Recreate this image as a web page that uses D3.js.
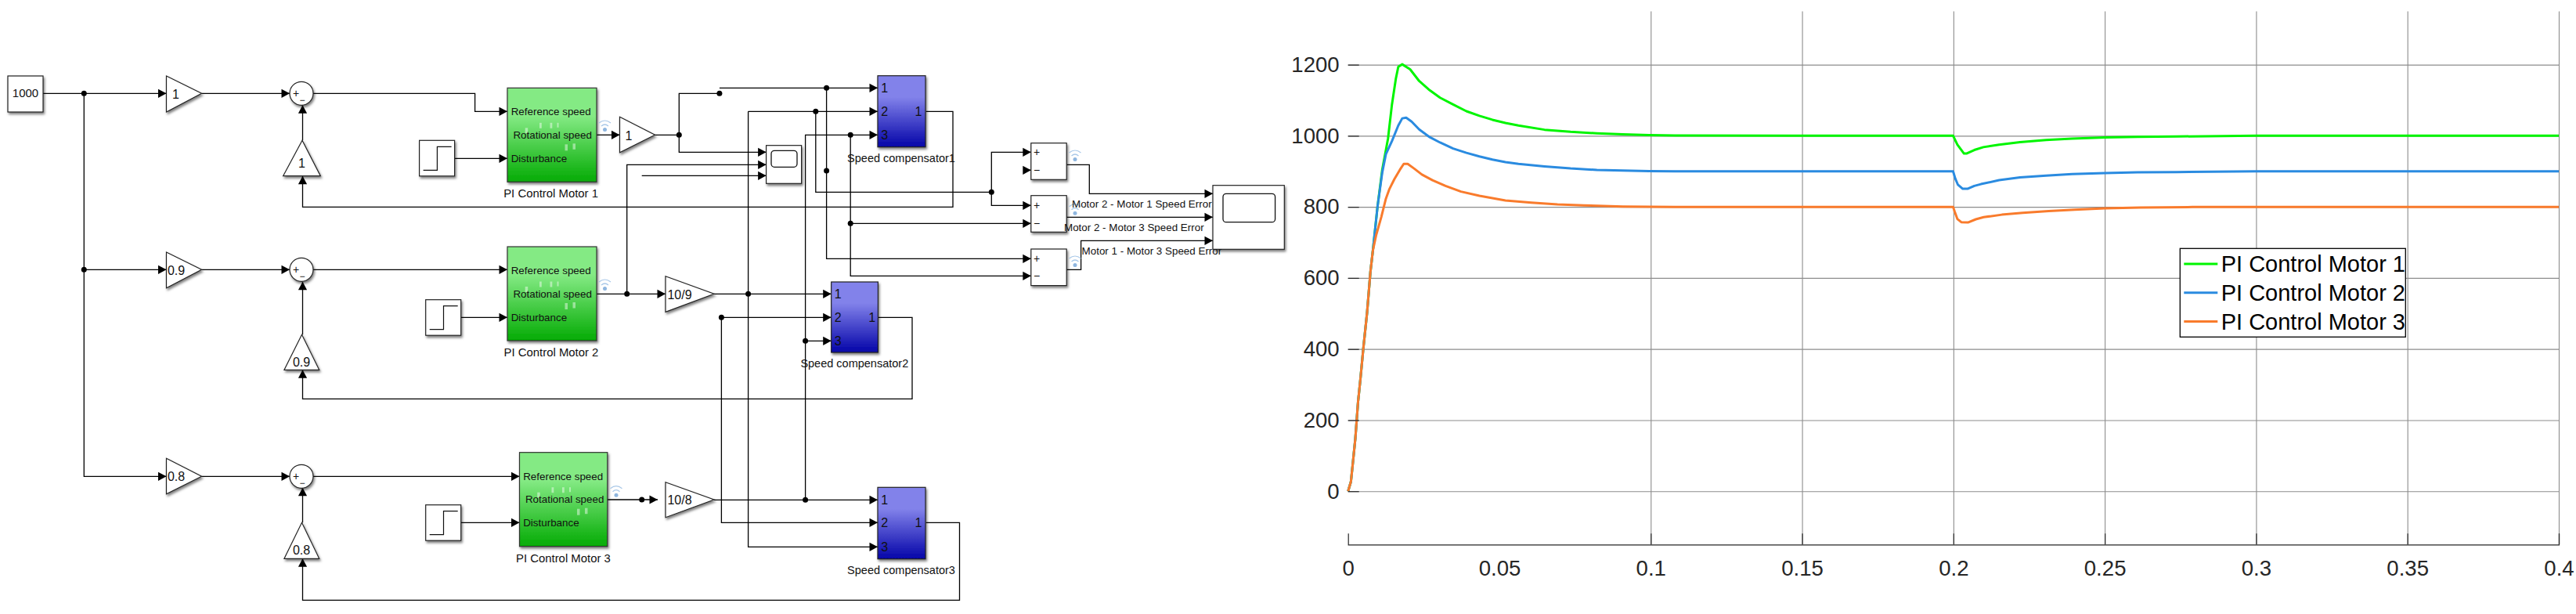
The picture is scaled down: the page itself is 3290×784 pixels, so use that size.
<!DOCTYPE html>
<html>
<head>
<meta charset="utf-8">
<script src="https://cdn.jsdelivr.net/npm/d3@7"></script>
<style>
  body { margin: 0; background: #fff; }
  svg { display: block; }
  text { font-family: "Liberation Sans", Arial, sans-serif; }
</style>
</head>
<body>
<div id="chart"></div>
<script>
// Values.
const seriesNames = ['PI Control Motor 1', 'PI Control Motor 2', 'PI Control Motor 3'];
const xTicks = [0, 0.05, 0.1, 0.15, 0.2, 0.25, 0.3, 0.35, 0.4];
const yTicks = [0, 200, 400, 600, 800, 1000, 1200];

const motor1Time = [0, 0.00095, 0.0017, 0.0024, 0.0033, 0.0041, 0.005, 0.0063, 0.0074, 0.0082, 0.00974, 0.0113, 0.0132, 0.0145, 0.0158, 0.0166, 0.0179, 0.0205, 0.0235, 0.027, 0.0304, 0.0347, 0.0391, 0.0434, 0.0477, 0.052, 0.0563, 0.0649, 0.0735, 0.0822, 0.0908, 0.0994, 0.108, 0.15, 0.1999, 0.2013, 0.2035, 0.2043, 0.2069, 0.2099, 0.2151, 0.222, 0.2306, 0.2392, 0.25, 0.2608, 0.2737, 0.3, 0.4];
const motor1Speed = [0, 27, 89, 148, 251, 317, 398, 504, 618, 677, 801, 905, 992, 1088, 1161, 1194, 1201, 1187, 1154, 1128, 1107, 1088, 1069, 1056, 1045, 1036, 1029, 1017, 1011, 1007, 1004, 1002, 1001, 1000, 1000, 975, 950, 950, 960, 968, 975, 982, 988, 992, 995, 997, 998, 1000, 1000];

const motor2Time = [0, 0.00095, 0.0017, 0.0024, 0.0033, 0.0041, 0.005, 0.0063, 0.0074, 0.0082, 0.00974, 0.0113, 0.0125, 0.0145, 0.0166, 0.0179, 0.0192, 0.021, 0.0235, 0.027, 0.0304, 0.0347, 0.0391, 0.0434, 0.0477, 0.052, 0.0563, 0.0649, 0.0735, 0.0822, 0.0908, 0.0994, 0.108, 0.15, 0.1999, 0.2006, 0.2015, 0.203, 0.2048, 0.2069, 0.2091, 0.2151, 0.222, 0.2306, 0.2392, 0.25, 0.2608, 0.2737, 0.3, 0.4];
const motor2Speed = [0, 27, 89, 148, 251, 317, 398, 504, 618, 677, 801, 897, 948, 985, 1029, 1049, 1051, 1040, 1018, 996, 981, 964, 952, 942, 933, 926, 921, 914, 908, 904, 902, 900.5, 900, 900, 900, 880, 862, 851, 851, 859, 864, 875, 883, 888, 892, 895, 897, 898, 900, 900];

const motor3Time = [0, 0.00095, 0.0017, 0.0024, 0.0033, 0.0041, 0.005, 0.0063, 0.0074, 0.0082, 0.0093, 0.011, 0.0125, 0.0136, 0.0153, 0.0171, 0.0184, 0.0197, 0.0218, 0.0244, 0.0279, 0.0322, 0.0373, 0.0434, 0.052, 0.0606, 0.0692, 0.0779, 0.0908, 0.108, 0.15, 0.1999, 0.2004, 0.2013, 0.2026, 0.2048, 0.2074, 0.21, 0.216, 0.2229, 0.2315, 0.2401, 0.2501, 0.2617, 0.279, 0.3, 0.4];
const motor3Speed = [0, 27, 89, 148, 251, 317, 398, 504, 618, 677, 721, 772, 823, 849, 878, 904, 921, 921, 908, 891, 875, 859, 843, 831, 818, 812, 807, 804, 801, 800, 800, 800, 787, 766, 757, 756, 765, 771, 778, 783, 788, 792, 796, 798, 799.5, 800, 800];

const seriesColors = ['#00f500', '#2a8be0', '#f97b2c'];

const width = 3290;
const height = 784;

const svg = d3.select('#chart').append('svg')
    .attr('width', width)
    .attr('height', height)
    .attr('viewBox', [0, 0, width, height]);

// Filters and gradients for the block diagram
const defs = svg.append('defs');
defs.append('filter').attr('id', 'shadow')
    .attr('x', '-20%').attr('y', '-20%').attr('width', '150%').attr('height', '150%')
  .append('feDropShadow')
    .attr('dx', 1.5).attr('dy', 2.5).attr('stdDeviation', 1.6)
    .attr('flood-color', '#000').attr('flood-opacity', 0.5);

function addGradient(id, top, bottom) {
  const g = defs.append('linearGradient').attr('id', id)
      .attr('x1', 0).attr('y1', 0).attr('x2', 0).attr('y2', 1);
  g.append('stop').attr('offset', '0%').attr('stop-color', top);
  g.append('stop').attr('offset', '30%').attr('stop-color', top);
  g.append('stop').attr('offset', '100%').attr('stop-color', bottom);
}
addGradient('greenFill', '#84ea84', '#04ab04');
addGradient('blueFill', '#8282ea', '#0404a8');

// ---------- Block diagram ----------
const diagram = svg.append('g').attr('class', 'diagram');

const wires = [
  // Reference branch
  { p: [[55, 119.3], [212.5, 119.3]], arrow: true },
  { p: [[107.3, 119.3], [107.3, 608.3], [212.5, 608.3]], arrow: true },
  { p: [[107.3, 344.3], [212.5, 344.3]], arrow: true },
  { p: [[257.5, 119.3], [370, 119.3]], arrow: true },
  { p: [[257.5, 344.3], [370, 344.3]], arrow: true },
  { p: [[257.5, 608.3], [370, 608.3]], arrow: true },
  { p: [[400, 119.3], [606.6, 119.3], [606.6, 142.3], [648, 142.3]], arrow: true },
  { p: [[400, 344.3], [648, 344.3]], arrow: true },
  { p: [[400, 608.3], [663.5, 608.3]], arrow: true },
  // Steps
  { p: [[581, 202.3], [648, 202.3]], arrow: true },
  { p: [[588.7, 405.3], [648, 405.3]], arrow: true },
  { p: [[588.7, 667.3], [663.5, 667.3]], arrow: true },
  // Motor 1 output
  { p: [[762, 172.3], [791.5, 172.3]], arrow: true },
  { p: [[836.5, 172.3], [867.3, 172.3], [867.3, 119.3], [918.9, 119.3]] },
  { p: [[918.9, 112.3], [1121, 112.3]], arrow: true },
  { p: [[867.3, 172.3], [867.3, 194.3], [978.6, 194.3]], arrow: true },
  // Feedback loops
  { p: [[1182.6, 142.3], [1217, 142.3], [1217, 264.3], [386.5, 264.3], [386.5, 224.7]], arrow: true },
  { p: [[386.5, 179.3], [386.5, 134.3]], arrow: true },
  { p: [[1121.4, 405.3], [1165, 405.3], [1165, 509.3], [386.5, 509.3], [386.5, 472.3]], arrow: true },
  { p: [[386.5, 427.3], [386.5, 359.7]], arrow: true },
  { p: [[1182.6, 667.3], [1225.5, 667.3], [1225.5, 766.3], [386.5, 766.3], [386.5, 713.3]], arrow: true },
  { p: [[386.5, 667.3], [386.5, 622.7]], arrow: true },
  // Motor 2 output
  { p: [[762, 375.3], [850, 375.3]], arrow: true },
  { p: [[800.7, 375.3], [800.7, 210.3], [978.6, 210.3]], arrow: true },
  { p: [[819.7, 224.3], [978.6, 224.3]], arrow: true },
  { p: [[912, 375.3], [1061.7, 375.3]], arrow: true },
  { p: [[955.6, 142.3], [1121, 142.3]], arrow: true },
  { p: [[955.6, 142.3], [955.6, 698.3], [1121, 698.3]], arrow: true },
  { p: [[1041.8, 142.3], [1041.8, 245.3], [1266.3, 245.3]] },
  { p: [[1266.3, 245.3], [1266.3, 194.3], [1316.8, 194.3]], arrow: true },
  { p: [[1266.3, 245.3], [1266.3, 262.3], [1316.8, 262.3]], arrow: true },
  { p: [[1055.6, 112.3], [1055.6, 330.3], [1316.8, 330.3]], arrow: true },
  // Motor 3 output
  { p: [[775.8, 638], [840, 638]], arrow: true },
  { p: [[912, 638.3], [1121, 638.3]], arrow: true },
  { p: [[1028.6, 638.3], [1028.6, 172.3], [1121, 172.3]], arrow: true },
  { p: [[1028.6, 435.3], [1061.7, 435.3]], arrow: true },
  { p: [[1086.2, 172.3], [1086.2, 352.3], [1316.8, 352.3]], arrow: true },
  { p: [[1086.2, 285.3], [1316.8, 285.3]], arrow: true },
  { p: [[921.4, 405.3], [1061.7, 405.3]], arrow: true },
  { p: [[921.4, 405.3], [921.4, 667.3], [1121, 667.3]], arrow: true },
  { p: [[1308, 217.3], [1316.8, 217.3]], arrow: true },
  // Error signals to the scope
  { p: [[1362.2, 210.3], [1391.3, 210.3], [1391.3, 247.3], [1549, 247.3]], arrow: true },
  { p: [[1362.2, 277.3], [1549, 277.3]], arrow: true },
  { p: [[1362.2, 344.3], [1380.6, 344.3], [1380.6, 307.3], [1549, 307.3]], arrow: true },
];

const junctions = [
  [107.3, 119.3], [107.3, 344.3], [867.3, 172.3], [918.9, 119.3], [1055.6, 112.3], [1041.8, 142.3],
  [1086.2, 172.3], [1055.6, 218], [1266.3, 245.3], [1086.2, 285.3], [800.7, 375.3], [955.6, 375.3],
  [921.4, 405.3], [1028.6, 435.3], [819.7, 638], [1028.6, 638.3],
];

const wireLine = d3.line();
diagram.append('g').selectAll('path').data(wires).join('path')
    .attr('d', d => wireLine(d.p))
    .attr('fill', 'none')
    .attr('stroke', '#000')
    .attr('stroke-width', 1.3);

// Arrow heads point along the last segment of a wire
function arrowHead(d) {
  const [x1, y1] = d.p[d.p.length - 2];
  const [x2, y2] = d.p[d.p.length - 1];
  const a = Math.atan2(y2 - y1, x2 - x1);
  const back = 10.5, side = 5.6;
  const bx = x2 - back * Math.cos(a), by = y2 - back * Math.sin(a);
  const nx = -Math.sin(a) * side, ny = Math.cos(a) * side;
  return `M${x2},${y2}L${bx + nx},${by + ny}L${bx - nx},${by - ny}Z`;
}
diagram.append('g').selectAll('path').data(wires.filter(d => d.arrow)).join('path')
    .attr('d', arrowHead)
    .attr('fill', '#000');

diagram.append('g').selectAll('circle').data(junctions).join('circle')
    .attr('cx', d => d[0])
    .attr('cy', d => d[1])
    .attr('r', 3.5)
    .attr('fill', '#000');

function label(txt, x, y, size, anchor) {
  return diagram.append('text')
      .attr('x', x)
      .attr('y', y)
      .attr('dy', '0.35em')
      .attr('font-size', size)
      .attr('text-anchor', anchor || 'middle')
      .attr('fill', '#111')
      .text(txt);
}

function whiteBox(x, y, w, h) {
  return diagram.append('rect')
      .attr('x', x).attr('y', y).attr('width', w).attr('height', h)
      .attr('fill', '#fff')
      .attr('stroke', '#222')
      .attr('stroke-width', 1.2)
      .attr('filter', 'url(#shadow)');
}

// Constant
whiteBox(10, 97, 45, 46);
label('1000', 32.5, 119, 15);

// Gains: [points, text, text x, text y]
const gains = [
  { pts: [[212.5, 97], [257.5, 119.3], [212.5, 143]], txt: '1', tx: 224.5, ty: 120 },
  { pts: [[212.5, 322], [257.5, 344.3], [212.5, 367.7]], txt: '0.9', tx: 225, ty: 345 },
  { pts: [[212.5, 585.3], [257.5, 608.3], [212.5, 630.7]], txt: '0.8', tx: 225, ty: 608.5 },
  { pts: [[361.6, 224.7], [386, 179.3], [409.3, 224.7]], txt: '1', tx: 385.5, ty: 208 },
  { pts: [[363, 472.3], [385.5, 427.3], [407.7, 472.3]], txt: '0.9', tx: 385, ty: 462 },
  { pts: [[363, 713.3], [385.5, 667.3], [407.7, 713.3]], txt: '0.8', tx: 385, ty: 702.7 },
  { pts: [[791.5, 149.3], [836.5, 172.3], [791.5, 194.7]], txt: '1', tx: 803, ty: 173 },
  { pts: [[850, 352.7], [912, 375.3], [850, 398.3]], txt: '10/9', tx: 868, ty: 376 },
  { pts: [[850, 615.7], [912, 638], [850, 660.7]], txt: '10/8', tx: 868, ty: 638 },
];
gains.forEach(g => {
  diagram.append('polygon')
      .attr('points', g.pts.map(p => p.join(',')).join(' '))
      .attr('fill', '#fff')
      .attr('stroke', '#222')
      .attr('stroke-width', 1.2)
      .attr('filter', 'url(#shadow)');
  label(g.txt, g.tx, g.ty, 16);
});

// Sums
[119.3, 344.3, 608.3].forEach(cy => {
  diagram.append('circle')
      .attr('cx', 385).attr('cy', cy).attr('r', 15)
      .attr('fill', '#fff')
      .attr('stroke', '#222')
      .attr('stroke-width', 1.2)
      .attr('filter', 'url(#shadow)');
  label('+', 378, cy, 14);
  label('−', 386, cy + 8, 12);
});

// Steps
[[535.6, 179.3], [543.7, 382.7], [543.7, 644.7]].forEach(([x, y]) => {
  whiteBox(x, y, 45, 45.5);
  diagram.append('path')
      .attr('d', wireLine([[x + 5, y + 38], [x + 22.8, y + 38], [x + 22.8, y + 8], [x + 41, y + 8]]))
      .attr('fill', 'none')
      .attr('stroke', '#111')
      .attr('stroke-width', 1.2);
});

// PI control subsystems
const motorBlocks = [
  { x: 648, y: 112.3, w: 114, h: 120, lx: 703.6, ly: 247, txt: 'PI Control Motor 1' },
  { x: 648, y: 315, w: 114, h: 120, lx: 704, ly: 450, txt: 'PI Control Motor 2' },
  { x: 663.5, y: 577.7, w: 112.3, h: 120, lx: 719.4, ly: 712.3, txt: 'PI Control Motor 3' },
];
const faintMarks = [[22.7, 51, 3.5, 7], [41, 44.5, 2.8, 7], [54.5, 44.5, 2.8, 7], [63.5, 44.5, 2, 6], [73.5, 72, 3.5, 8], [83.5, 71, 3.5, 7.5]];
motorBlocks.forEach(b => {
  diagram.append('rect')
      .attr('x', b.x).attr('y', b.y).attr('width', b.w).attr('height', b.h)
      .attr('fill', 'url(#greenFill)')
      .attr('stroke', '#333')
      .attr('stroke-width', 1.2)
      .attr('filter', 'url(#shadow)');
  diagram.append('g').selectAll('rect').data(faintMarks).join('rect')
      .attr('x', d => b.x + d[0])
      .attr('y', d => b.y + d[1])
      .attr('width', d => d[2])
      .attr('height', d => d[3])
      .attr('fill', '#fff')
      .attr('opacity', 0.45);
  label('Reference speed', b.x + 4.7, b.y + 30.4, 13.4, 'start');
  label('Rotational speed', b.x + 7.4, b.y + 60, 13.4, 'start');
  label('Disturbance', b.x + 4.7, b.y + 90, 13.4, 'start');
  label(b.txt, b.lx, b.ly, 14.9);
});

// Speed compensators
const compBlocks = [
  { x: 1121, y: 96.7, w: 61, h: 91, lx: 1151, ly: 202, txt: 'Speed compensator1', p: [112.3, 142.3, 172.3] },
  { x: 1061.7, y: 360, w: 59.7, h: 90, lx: 1091.3, ly: 464.3, txt: 'Speed compensator2', p: [375.3, 405.3, 435.3] },
  { x: 1121, y: 622.3, w: 61, h: 91.4, lx: 1151, ly: 728.3, txt: 'Speed compensator3', p: [638.3, 667.3, 698.3] },
];
compBlocks.forEach(b => {
  diagram.append('rect')
      .attr('x', b.x).attr('y', b.y).attr('width', b.w).attr('height', b.h)
      .attr('fill', 'url(#blueFill)')
      .attr('stroke', '#222')
      .attr('stroke-width', 1.2)
      .attr('filter', 'url(#shadow)');
  b.p.forEach((py, i) => label(String(i + 1), b.x + 8.6, py, 16));
  label('1', b.x + 52, b.p[1], 16);
  label(b.txt, b.lx, b.ly, 14.5);
});

// Scopes
function scope(x, y, w, h, sx, sy, sw, sh) {
  whiteBox(x, y, w, h);
  diagram.append('rect')
      .attr('x', sx).attr('y', sy).attr('width', sw).attr('height', sh)
      .attr('rx', 4)
      .attr('fill', '#fff')
      .attr('stroke', '#111')
      .attr('stroke-width', 1.3);
}
scope(978.6, 185.7, 45, 48.6, 985, 192.3, 33, 21);
scope(1549, 236.7, 91.3, 81.6, 1562, 247.3, 66.6, 36.4);

// Subtract blocks
[[182.7, 194.3, 217.3], [249.7, 262.3, 285.3], [318, 330.3, 352.3]].forEach(([y, plus, minus]) => {
  whiteBox(1316.8, y, 45.4, 46.6);
  label('+', 1324, plus, 14);
  label('−', 1324, minus, 14);
});

// Signal logging badges
const badges = [[772.5, 160], [772.5, 363], [787, 626.7], [1373, 198], [1373, 266.7], [1373, 333]];
badges.forEach(([x, y]) => {
  const b = diagram.append('g').attr('transform', `translate(${x},${y})`)
      .attr('fill', 'none')
      .attr('stroke', '#a9c8e8')
      .attr('stroke-width', 1.2);
  b.append('path').attr('d', 'M-7.5,-3Q0,-9 7.5,-3');
  b.append('path').attr('d', 'M-4.5,1Q0,-3 4.5,1');
  b.append('circle').attr('cy', 5.5).attr('r', 2.5).attr('fill', '#8fb6df').attr('stroke', 'none');
});

// Error labels
label('Motor 2 - Motor 1 Speed Error', 1369, 260, 13.4, 'start');
label('Motor 2 - Motor 3 Speed Error', 1359, 290, 13.4, 'start');
label('Motor 1 - Motor 3 Speed Error', 1381.6, 320.7, 13.4, 'start');

// ---------- Response plot ----------
const plotLeft = 1721.7;
const plotRight = 3268;
const plotTop = 14.5;
const plotBottom = 695.3;

const x = d3.scaleLinear().domain([0, 0.4]).range([plotLeft, plotRight]);
const y = d3.scaleLinear().domain([-150, 1350]).range([plotBottom, plotTop]);

const plot = svg.append('g').attr('class', 'plot');

// Grid. The picture has no vertical line at 0 or 0.05.
const xGrid = plot.append('g')
    .attr('transform', `translate(0,${plotBottom})`)
    .call(d3.axisBottom(x).tickValues(xTicks.filter(d => d >= 0.1)).tickSize(-(plotBottom - plotTop)).tickFormat(''));
const yGrid = plot.append('g')
    .attr('transform', `translate(${plotLeft},0)`)
    .call(d3.axisLeft(y).tickValues(yTicks).tickSize(-(plotRight - plotLeft)).tickFormat(''));
[xGrid, yGrid].forEach(g => {
  g.select('.domain').remove();
  g.selectAll('line').attr('stroke', '#8c8c8c').attr('stroke-width', 1.1);
});

// Lines
const line = d3.line().x(d => x(d[0])).y(d => y(d[1]));
const seriesData = [
  d3.zip(motor1Time, motor1Speed),
  d3.zip(motor2Time, motor2Speed),
  d3.zip(motor3Time, motor3Speed),
];
plot.append('g').selectAll('path').data(seriesData).join('path')
    .attr('d', line)
    .attr('fill', 'none')
    .attr('stroke', (d, i) => seriesColors[i])
    .attr('stroke-width', 3)
    .attr('stroke-linejoin', 'round');

// Axes
const xAxis = plot.append('g')
    .attr('transform', `translate(0,${plotBottom})`)
    .call(d3.axisBottom(x).tickValues(xTicks).tickSize(-14).tickPadding(20).tickFormat(d => String(d)));
xAxis.selectAll('.tick').filter(d => d < 0.1).select('line').remove();
const yAxis = plot.append('g')
    .attr('transform', `translate(${plotLeft},0)`)
    .call(d3.axisLeft(y).tickValues(yTicks).tickSize(-14).tickPadding(11).tickFormat(d => String(d)));
yAxis.select('.domain').remove();
[xAxis, yAxis].forEach(g => {
  g.select('.domain').attr('stroke', '#262626').attr('stroke-width', 1.2);
  g.selectAll('line').attr('stroke', '#262626').attr('stroke-width', 1.2);
  g.selectAll('text')
      .attr('font-size', 27.6)
      .attr('font-family', '"Liberation Sans", Arial, sans-serif')
      .attr('fill', '#262626');
});

// Legend
const legend = plot.append('g').attr('class', 'legend');
legend.append('rect')
    .attr('x', 2784.3).attr('y', 317.3).attr('width', 288).attr('height', 113)
    .attr('fill', '#fff')
    .attr('stroke', '#000')
    .attr('stroke-width', 1.3);
const legendY = d3.scalePoint().domain(seriesNames).range([337, 410.5]);
seriesNames.forEach((name, i) => {
  legend.append('line')
      .attr('x1', 2789.3).attr('x2', 2832.3)
      .attr('y1', legendY(name)).attr('y2', legendY(name))
      .attr('stroke', seriesColors[i])
      .attr('stroke-width', 3.2);
  legend.append('text')
      .attr('x', 2836.7)
      .attr('y', legendY(name) + 10.3)
      .attr('font-size', 29)
      .attr('fill', '#000')
      .text(name);
});
</script>
</body>
</html>
